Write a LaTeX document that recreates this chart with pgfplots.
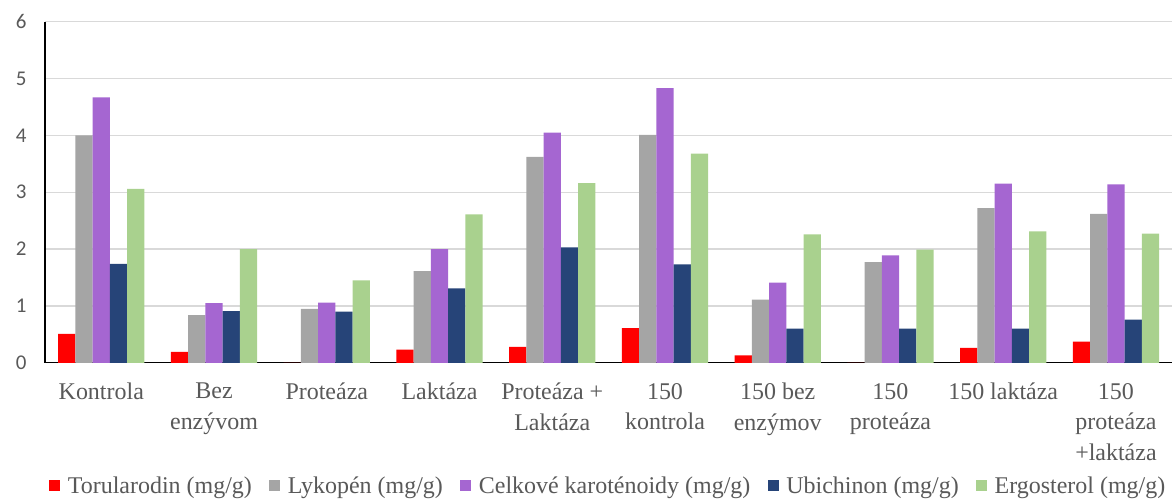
\documentclass[border=0pt]{standalone}
\usepackage{fontspec}
\setmainfont{Liberation Serif}
\newfontfamily\calibri{Carlito}
\usepackage{pgfplots}
\pgfplotsset{compat=1.18}
\definecolor{torc}{HTML}{FF0000}
\definecolor{lykc}{HTML}{A5A5A5}
\definecolor{karc}{HTML}{A566D1}
\definecolor{ubic}{HTML}{264478}
\definecolor{ergc}{HTML}{A9D18E}
\definecolor{txt}{HTML}{595959}
\definecolor{grd}{HTML}{D9D9D9}
\pgfplotsset{sqlegend/.style={legend image code/.code={\fill[##1] (0pt,-5pt) rectangle (11pt,6pt);}}}

\begin{document}
\begin{tikzpicture}
\begin{axis}[
  scale only axis,
  width=1129pt, height=341.6pt,
  xmin=-0.5, xmax=9.5, ymin=0, ymax=6,
  ybar=0pt, bar width=17.3pt,
  axis lines=left, axis line style={-, black, line width=1.3pt},
  ymajorgrids, grid style={grd, line width=1.4pt},
  major tick length=0pt,
  ytick={0,1,...,6},
  xtick={0,...,9},
  xticklabels={Kontrola, {Bez\\enzývom}, Proteáza, Laktáza, {Proteáza +\\Laktáza},
    {150\\kontrola}, {150 bez\\enzýmov}, {150\\proteáza}, {150 laktáza}, {150\\proteáza\\+laktáza}},
  xticklabel style={align=center, text=txt, font=\fontsize{24}{30.7}\selectfont, yshift=-17pt},
  yticklabel style={text=txt, font=\calibri\fontsize{21}{24}\selectfont, xshift=-15pt},
  /pgf/number format/assume math mode=true,
  legend columns=5,
  legend style={at={(0.5,-0.362)}, anchor=center, draw=none, text=txt,
    font=\fontsize{24}{28}\selectfont,
    /tikz/every odd column/.append style={column sep=5pt},
    /tikz/every even column/.append style={column sep=15pt},
    nodes={inner sep=2.5pt}},
]
\addplot[fill=torc, draw=none, sqlegend] coordinates {(0,0.51) (1,0.19) (2,0) (3,0.23) (4,0.28) (5,0.61) (6,0.13) (7,0) (8,0.26) (9,0.37)};
\addplot[fill=lykc, draw=none, sqlegend] coordinates {(0,4.00) (1,0.84) (2,0.95) (3,1.61) (4,3.62) (5,4.01) (6,1.11) (7,1.77) (8,2.72) (9,2.62)};
\addplot[fill=karc, draw=none, sqlegend] coordinates {(0,4.67) (1,1.05) (2,1.06) (3,2.00) (4,4.05) (5,4.83) (6,1.41) (7,1.89) (8,3.15) (9,3.14)};
\addplot[fill=ubic, draw=none, sqlegend] coordinates {(0,1.74) (1,0.91) (2,0.90) (3,1.31) (4,2.03) (5,1.73) (6,0.60) (7,0.60) (8,0.60) (9,0.76)};
\addplot[fill=ergc, draw=none, sqlegend] coordinates {(0,3.06) (1,2.00) (2,1.45) (3,2.61) (4,3.16) (5,3.68) (6,2.26) (7,1.99) (8,2.31) (9,2.27)};
\legend{Torularodin (mg/g), Lykopén (mg/g), Celkové karoténoidy (mg/g), Ubichinon (mg/g), Ergosterol (mg/g)}
\end{axis}
\path[use as bounding box] (-45pt,-133.7pt) rectangle (1129pt,363.3pt);
\end{tikzpicture}
\end{document}
